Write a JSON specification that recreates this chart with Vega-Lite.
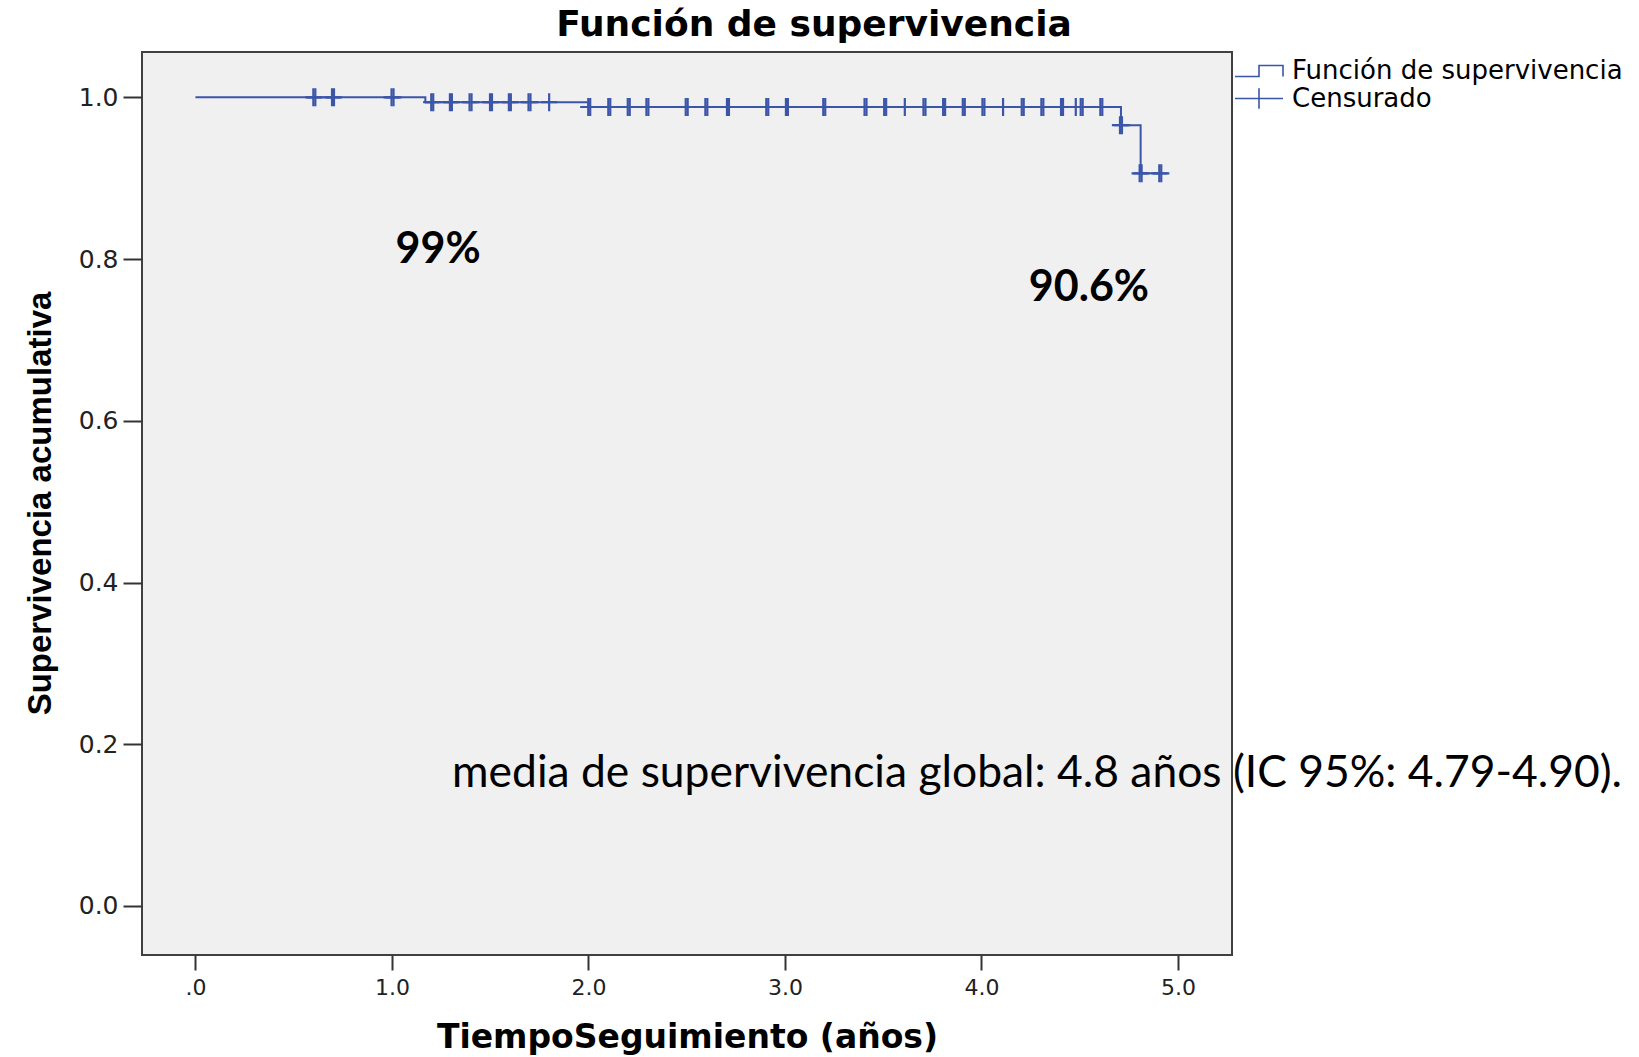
{
  "$schema": "https://vega.github.io/schema/vega-lite/v6.json",
  "autosize": {"type": "none"},
  "width": 1090,
  "height": 903,
  "padding": {"left": 142, "top": 52, "right": 407, "bottom": 102},
  "background": "#FFFFFF",
  "title": {
    "text": "Función de supervivencia",
    "font": "DejaVu Sans",
    "fontSize": 36,
    "fontWeight": "bold",
    "color": "#000000",
    "anchor": "middle",
    "frame": "group",
    "dx": 127,
    "offset": 8
  },
  "config": {
    "view": {"fill": "#F0F0F0", "stroke": "#404040", "strokeWidth": 2},
    "legend": {
      "orient": "none",
      "legendX": 1104,
      "legendY": 6,
      "direction": "vertical",
      "padding": 0,
      "title": null,
      "labelFont": "DejaVu Sans",
      "labelFontSize": 26,
      "labelColor": "#000000",
      "labelLimit": 0,
      "symbolSize": 576,
      "labelOffset": 20,
      "rowPadding": 0.5,
      "symbolStrokeWidth": 1.6
    }
  },
  "layer": [
    {
      "data": {
        "values": [
          {"t": 0, "s": 1.0, "serie": "Función de supervivencia"},
          {"t": 1.17, "s": 0.994, "serie": "Función de supervivencia"},
          {"t": 2.0, "s": 0.988, "serie": "Función de supervivencia"},
          {"t": 4.71, "s": 0.9655, "serie": "Función de supervivencia"},
          {"t": 4.81, "s": 0.906, "serie": "Función de supervivencia"},
          {"t": 4.91, "s": 0.906, "serie": "Función de supervivencia"}
        ]
      },
      "mark": {"type": "line", "interpolate": "step-after", "strokeWidth": 2},
      "encoding": {
        "x": {
          "field": "t",
          "type": "quantitative",
          "scale": {"domain": [-0.272, 5.275], "nice": false, "zero": false},
          "axis": {
            "values": [0, 1, 2, 3, 4, 5],
            "labelExpr": "datum.value === 0 ? '.0' : format(datum.value, '.1f')",
            "grid": false,
            "domain": false,
            "tickSize": 15,
            "tickWidth": 2,
            "tickColor": "#333333",
            "labelFont": "DejaVu Sans",
            "labelFontSize": 22,
            "labelColor": "#222222",
            "labelBaseline": "alphabetic",
            "labelPadding": 24,
            "title": "TiempoSeguimiento (años)",
            "titleFont": "DejaVu Sans",
            "titleFontSize": 33,
            "titleFontWeight": "bold",
            "titleColor": "#000000",
            "titleBaseline": "alphabetic",
            "titleY": 92
          }
        },
        "y": {
          "field": "s",
          "type": "quantitative",
          "scale": {"domain": [-0.0606, 1.056], "nice": false, "zero": false},
          "axis": {
            "values": [0, 0.2, 0.4, 0.6, 0.8, 1.0],
            "format": ".1f",
            "grid": false,
            "domain": false,
            "tickSize": 19,
            "tickWidth": 2,
            "tickColor": "#333333",
            "labelFont": "DejaVu Sans",
            "labelFontSize": 25,
            "labelColor": "#222222",
            "labelPadding": 5,
            "title": "Supervivencia acumulativa",
            "titleFont": "Liberation Sans",
            "titleFontSize": 33,
            "titleFontWeight": "bold",
            "titleColor": "#000000",
            "titleAngle": 270,
            "titleAlign": "center",
            "titleBaseline": "alphabetic",
            "titleX": -92,
            "titleY": 451
          }
        },
        "color": {
          "field": "serie",
          "type": "nominal",
          "scale": {
            "domain": ["Función de supervivencia", "Censurado"],
            "range": ["#3B55A8", "#3B55A8"]
          },
          "legend": {
            "encode": {
              "symbols": {
                "update": {
                  "shape": {"signal": "datum.value === 'Censurado' ? 'M-2,0H2M0,-0.85V0.85' : 'M-2,0.46H0V-0.46H2V0.46'"},
                  "fill": {"value": "transparent"},
                  "stroke": {"value": "#3B55A8"},
                  "strokeWidth": {"value": 1.6},
                  "opacity": {"value": 1}
                }
              }
            }
          }
        }
      }
    },
    {
      "data": {
        "values": [
          {"t": 0.600, "s": 1.0, "serie": "Censurado"},
          {"t": 0.610, "s": 1.0, "serie": "Censurado"},
          {"t": 0.695, "s": 1.0, "serie": "Censurado"},
          {"t": 0.705, "s": 1.0, "serie": "Censurado"},
          {"t": 0.998, "s": 1.0, "serie": "Censurado"},
          {"t": 1.008, "s": 1.0, "serie": "Censurado"},
          {"t": 1.200, "s": 0.994, "serie": "Censurado"},
          {"t": 1.210, "s": 0.994, "serie": "Censurado"},
          {"t": 1.295, "s": 0.994, "serie": "Censurado"},
          {"t": 1.305, "s": 0.994, "serie": "Censurado"},
          {"t": 1.395, "s": 0.994, "serie": "Censurado"},
          {"t": 1.405, "s": 0.994, "serie": "Censurado"},
          {"t": 1.499, "s": 0.994, "serie": "Censurado"},
          {"t": 1.509, "s": 0.994, "serie": "Censurado"},
          {"t": 1.595, "s": 0.994, "serie": "Censurado"},
          {"t": 1.605, "s": 0.994, "serie": "Censurado"},
          {"t": 1.695, "s": 0.994, "serie": "Censurado"},
          {"t": 1.705, "s": 0.994, "serie": "Censurado"},
          {"t": 1.800, "s": 0.994, "serie": "Censurado"},
          {"t": 1.999, "s": 0.988, "serie": "Censurado"},
          {"t": 2.009, "s": 0.988, "serie": "Censurado"},
          {"t": 2.101, "s": 0.988, "serie": "Censurado"},
          {"t": 2.111, "s": 0.988, "serie": "Censurado"},
          {"t": 2.200, "s": 0.988, "serie": "Censurado"},
          {"t": 2.210, "s": 0.988, "serie": "Censurado"},
          {"t": 2.295, "s": 0.988, "serie": "Censurado"},
          {"t": 2.305, "s": 0.988, "serie": "Censurado"},
          {"t": 2.495, "s": 0.988, "serie": "Censurado"},
          {"t": 2.505, "s": 0.988, "serie": "Censurado"},
          {"t": 2.595, "s": 0.988, "serie": "Censurado"},
          {"t": 2.605, "s": 0.988, "serie": "Censurado"},
          {"t": 2.705, "s": 0.988, "serie": "Censurado"},
          {"t": 2.715, "s": 0.988, "serie": "Censurado"},
          {"t": 2.905, "s": 0.988, "serie": "Censurado"},
          {"t": 2.915, "s": 0.988, "serie": "Censurado"},
          {"t": 3.005, "s": 0.988, "serie": "Censurado"},
          {"t": 3.015, "s": 0.988, "serie": "Censurado"},
          {"t": 3.195, "s": 0.988, "serie": "Censurado"},
          {"t": 3.205, "s": 0.988, "serie": "Censurado"},
          {"t": 3.405, "s": 0.988, "serie": "Censurado"},
          {"t": 3.415, "s": 0.988, "serie": "Censurado"},
          {"t": 3.505, "s": 0.988, "serie": "Censurado"},
          {"t": 3.515, "s": 0.988, "serie": "Censurado"},
          {"t": 3.610, "s": 0.988, "serie": "Censurado"},
          {"t": 3.705, "s": 0.988, "serie": "Censurado"},
          {"t": 3.715, "s": 0.988, "serie": "Censurado"},
          {"t": 3.805, "s": 0.988, "serie": "Censurado"},
          {"t": 3.815, "s": 0.988, "serie": "Censurado"},
          {"t": 3.905, "s": 0.988, "serie": "Censurado"},
          {"t": 3.915, "s": 0.988, "serie": "Censurado"},
          {"t": 4.005, "s": 0.988, "serie": "Censurado"},
          {"t": 4.015, "s": 0.988, "serie": "Censurado"},
          {"t": 4.110, "s": 0.988, "serie": "Censurado"},
          {"t": 4.205, "s": 0.988, "serie": "Censurado"},
          {"t": 4.215, "s": 0.988, "serie": "Censurado"},
          {"t": 4.305, "s": 0.988, "serie": "Censurado"},
          {"t": 4.315, "s": 0.988, "serie": "Censurado"},
          {"t": 4.405, "s": 0.988, "serie": "Censurado"},
          {"t": 4.415, "s": 0.988, "serie": "Censurado"},
          {"t": 4.480, "s": 0.988, "serie": "Censurado"},
          {"t": 4.505, "s": 0.988, "serie": "Censurado"},
          {"t": 4.515, "s": 0.988, "serie": "Censurado"},
          {"t": 4.605, "s": 0.988, "serie": "Censurado"},
          {"t": 4.615, "s": 0.988, "serie": "Censurado"},
          {"t": 4.705, "s": 0.9655, "serie": "Censurado"},
          {"t": 4.715, "s": 0.9655, "serie": "Censurado"},
          {"t": 4.805, "s": 0.906, "serie": "Censurado"},
          {"t": 4.815, "s": 0.906, "serie": "Censurado"},
          {"t": 4.905, "s": 0.906, "serie": "Censurado"},
          {"t": 4.915, "s": 0.906, "serie": "Censurado"}
        ]
      },
      "mark": {
        "type": "point",
        "shape": "M0,-1V1M-0.9,0H0.9",
        "filled": false,
        "size": 324,
        "strokeWidth": 2.2,
        "opacity": 1
      },
      "encoding": {
        "x": {"field": "t", "type": "quantitative"},
        "y": {"field": "s", "type": "quantitative"},
        "color": {"field": "serie", "type": "nominal"}
      }
    },
    {
      "data": {
        "values": [
          {"t": 1.235, "s": 0.795, "label": "99%"},
          {"t": 4.547, "s": 0.748, "label": "90.6%"}
        ]
      },
      "mark": {
        "type": "text",
        "font": "Lato",
        "fontWeight": "bold",
        "fontSize": 43,
        "align": "center",
        "baseline": "alphabetic",
        "color": "#000000"
      },
      "encoding": {
        "x": {"field": "t", "type": "quantitative"},
        "y": {"field": "s", "type": "quantitative"},
        "text": {"field": "label", "type": "nominal"}
      }
    },
    {
      "data": {
        "values": [
          {"t": 1.306, "s": 0.147, "label": "media de supervivencia global: 4.8 años (IC 95%: 4.79-4.90)."}
        ]
      },
      "mark": {
        "type": "text",
        "font": "Lato",
        "fontSize": 44.4,
        "align": "left",
        "baseline": "alphabetic",
        "color": "#000000"
      },
      "encoding": {
        "x": {"field": "t", "type": "quantitative"},
        "y": {"field": "s", "type": "quantitative"},
        "text": {"field": "label", "type": "nominal"}
      }
    }
  ]
}
